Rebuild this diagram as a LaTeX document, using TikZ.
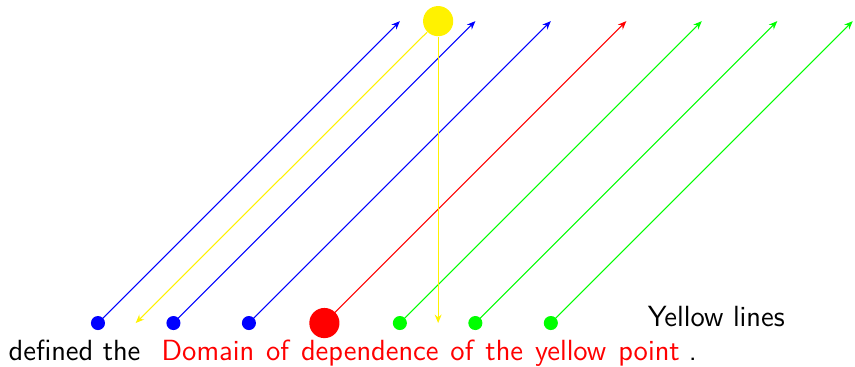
\documentclass[tikz,border=0pt]{standalone}
\usepackage{tikz}
\usetikzlibrary{positioning, arrows.meta, calc}

\begin{document}
\begin{tikzpicture}[
    >={Stealth[length=3.2pt, width=2.6pt]},
    dot/.style={circle, inner sep=0pt, minimum size=5.3pt},
    bigdot/.style={circle, inner sep=0pt, minimum size=0.4cm},
    txt/.style={font=\sffamily\fontsize{11}{13.6}\selectfont, inner sep=0pt,
                anchor=base west},
  ]
  \useasboundingbox (-1.298,-0.57) rectangle (10.03,4.28);
  % characteristics through the bottom points
  \foreach \i/\c in {0/blue, 1/blue, 2/blue, 4/green, 5/green, 6/green} {
    \coordinate (q\i) at (\i+4, 4);
    \draw[->, \c] (\i, 0) -- (q\i);
    \node[dot, fill=\c] (p\i) at (\i, 0) {};
  }
  \coordinate (q3) at (7, 4);
  \draw[->, red] (3, 0) -- (q3);
  \node[bigdot, fill=red] (p3) at (3, 0) {};
  % yellow point and its lines
  \coordinate (yl) at (0.5, 0);
  \coordinate (yr) at (4.507, 0);
  \node[bigdot, fill=yellow] (yp) at (4.507, 4) {};
  \draw[->, yellow] (yp) -- (yl);
  \draw[->, yellow] (yp) -- (yr);
  % text
  \node[txt] (ylines) at (7.28, -0.04) {Yellow lines};
  \node[txt] (defd) at (-1.19, -0.49) {defined the};
  \node[txt, text=red, base right=7.6pt of defd] (dom)
        {\spaceskip=4.5pt Domain of dependence of the yellow point};
  \node[txt, base right=3pt of dom] (stop) {.};
\end{tikzpicture}
\end{document}
